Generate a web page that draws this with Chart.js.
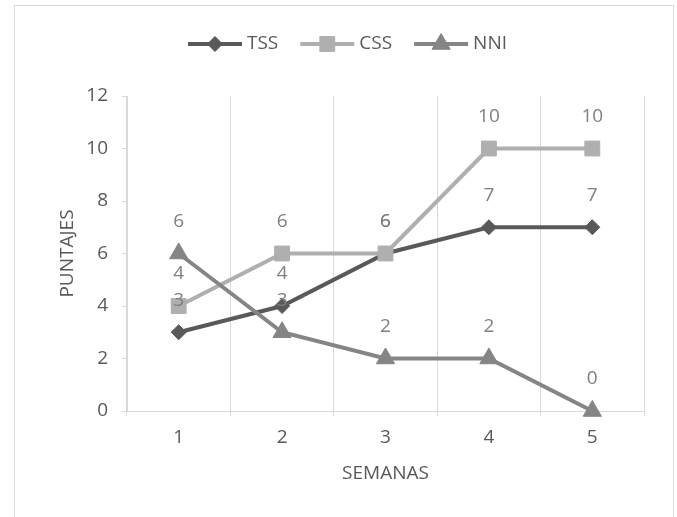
<!DOCTYPE html>
<html><head><meta charset="utf-8">
<script src="https://cdn.jsdelivr.net/npm/chart.js@4.4.1/dist/chart.umd.min.js"></script>
<style>
html,body{margin:0;padding:0;background:#fff;}
#wrap{position:relative;width:677px;height:517px;overflow:hidden;}
#frame{position:absolute;left:14px;top:5px;width:660px;height:530px;border:1px solid #d9d9d9;box-sizing:border-box;}
canvas{position:absolute;left:0;top:0;}
</style></head><body>
<div id="wrap"><div id="frame"></div><canvas id="c" width="677" height="517"></canvas></div>
<script>
const categories = ['1', '2', '3', '4', '5'];
const seriesNames = ['TSS', 'CSS', 'NNI'];
const tssValues = [3, 4, 6, 7, 7];
const cssValues = [4, 6, 6, 10, 10];
const nniValues = [6, 3, 2, 2, 0];
const yMin = 0, yMax = 12, yStep = 2;
const xTitle = 'SEMANAS';
const yTitle = 'PUNTAJES';

const FONT = '"Open Sans", "Noto Sans", sans-serif';
const FS = 19;
const TEXT = '#595959';
const GRID = '#d9d9d9';

const dataLabels = {
  id: 'dataLabels',
  afterDatasetsDraw(chart) {
    const ctx = chart.ctx;
    ctx.save();
    ctx.font = FS + 'px ' + FONT;
    ctx.fillStyle = '#7f7f7f';
    ctx.textAlign = 'center';
    ctx.textBaseline = 'middle';
    chart.data.datasets.forEach((ds, i) => {
      const meta = chart.getDatasetMeta(i);
      meta.data.forEach((el, j) => {
        ctx.fillText(String(ds.data[j]), el.x, el.y - 32);
      });
    });
    ctx.restore();
  }
};

const customLegend = {
  id: 'customLegend',
  afterDraw(chart) {
    const ctx = chart.ctx;
    ctx.save();
    ctx.font = FS + 'px ' + FONT;
    const lineLen = 54, gap1 = 5, gap2 = 22;
    const items = chart.data.datasets.map(ds => ({ ds, w: ctx.measureText(ds.label).width }));
    const total = items.reduce((a, it) => a + lineLen + gap1 + it.w, 0) + gap2 * (items.length - 1);
    let x = 347.5 - total / 2;
    const y = 44;
    items.forEach(it => {
      const ds = it.ds;
      ctx.strokeStyle = ds.borderColor;
      ctx.lineWidth = 4;
      ctx.beginPath(); ctx.moveTo(x, y); ctx.lineTo(x + lineLen, y); ctx.stroke();
      ctx.fillStyle = ds.pointBackgroundColor;
      ctx.strokeStyle = ds.pointBorderColor;
      ctx.lineWidth = 1;
      Chart.helpers.drawPoint(ctx, { pointStyle: ds.pointStyle, rotation: 0, radius: ds.pointRadius, borderWidth: 1 }, x + lineLen / 2, y);
      ctx.fillStyle = TEXT;
      ctx.textAlign = 'left';
      ctx.textBaseline = 'middle';
      ctx.fillText(ds.label, x + lineLen + gap1, y);
      x += lineLen + gap1 + it.w + gap2;
    });
    ctx.restore();
  }
};

function series(label, data, color, style, radius, order) {
  return {
    label, data,
    borderColor: color, backgroundColor: color,
    pointBackgroundColor: color, pointBorderColor: color,
    borderWidth: 4, pointStyle: style, pointRadius: radius, pointHoverRadius: radius,
    pointBorderWidth: 1, tension: 0, clip: false, order
  };
}

new Chart(document.getElementById('c'), {
  type: 'line',
  data: {
    labels: categories,
    datasets: [
      series(seriesNames[0], tssValues, '#595959', 'rectRot', 7.5, 3),
      series(seriesNames[1], cssValues, '#afafaf', 'rect', 10.5, 2),
      series(seriesNames[2], nniValues, '#858585', 'triangle', 10.5, 1)
    ]
  },
  options: {
    responsive: false,
    animation: false,
    events: [],
    layout: { padding: { left: 56, right: 33, top: 96, bottom: 0 } },
    plugins: { legend: { display: false }, tooltip: { enabled: false } },
    scales: {
      x: {
        type: 'category',
        offset: true,
        grid: { offset: true, color: GRID, lineWidth: 1, drawTicks: true, tickLength: 5 },
        border: { color: GRID, width: 1 },
        ticks: { color: TEXT, font: { family: FONT, size: FS }, padding: 10, maxRotation: 0 },
        title: { display: true, text: xTitle, color: TEXT, font: { family: FONT, size: FS }, padding: { top: 0, bottom: 32 } },
        afterFit(s) { s.height = 106; }
      },
      y: {
        min: yMin, max: yMax,
        grid: { drawOnChartArea: false, drawTicks: true, tickLength: 5, color: GRID },
        border: { color: GRID, width: 1 },
        ticks: { stepSize: yStep, color: TEXT, font: { family: FONT, size: FS }, padding: 14 },
        title: { display: true, text: yTitle, color: TEXT, font: { family: FONT, size: FS }, padding: 0 },
        afterFit(s) { s.width = 71; }
      }
    }
  },
  plugins: [dataLabels, customLegend]
});
</script>
</body></html>
